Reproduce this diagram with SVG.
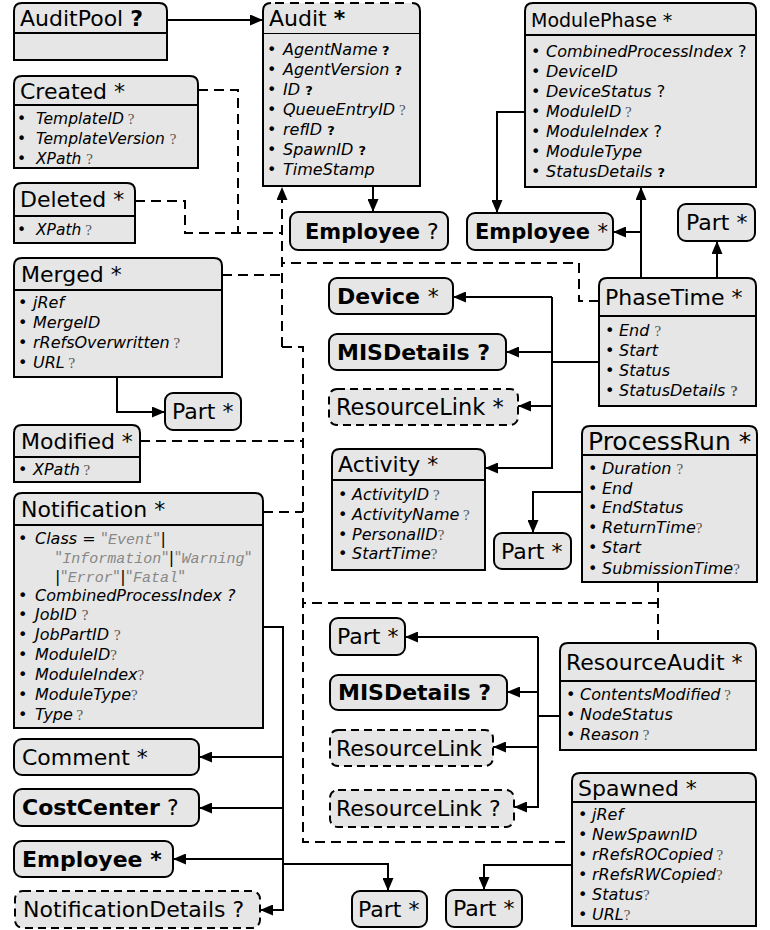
<svg xmlns="http://www.w3.org/2000/svg" width="770" height="930" viewBox="0 0 770 930">
<defs>
<style>
.b{fill:#e6e6e6;stroke:#000;stroke-width:2}
.d{fill:#e6e6e6;stroke:#000;stroke-width:2;stroke-dasharray:8,5}
.s{fill:none;stroke:#000;stroke-width:2}
.c{fill:none;stroke:#000;stroke-width:2}
.cd{fill:none;stroke:#000;stroke-width:2;stroke-dasharray:10,6}
text{font-family:"DejaVu Sans",Verdana,sans-serif;fill:#000}
.h{font-size:22px}
.n{font-size:22px}
.nb{font-size:21px;font-weight:bold}
.i{font-size:16px;font-style:italic}
.i15{font-size:15.5px;font-style:italic}
.bu{font-style:normal}
.qs{font-family:"Liberation Serif","DejaVu Serif",serif;font-style:normal;fill:#555;font-size:15px}
.qb{font-style:normal;font-weight:bold;font-size:13px}
.qn{font-style:normal}
.m{font-family:"Liberation Mono","DejaVu Sans Mono",monospace;font-style:italic;fill:#888;font-size:15px}
.g{fill:#888;font-style:normal}
</style>
<marker id="a" viewBox="0 0 13 11" refX="13" refY="5.5" markerWidth="13" markerHeight="11" markerUnits="userSpaceOnUse" orient="auto"><path d="M0,0L13,5.5L0,11Z" fill="#000"/></marker>
</defs>
<rect width="770" height="930" fill="#fff"/>

<g id="connectors">
<path class="c" d="M167,20H263" marker-end="url(#a)"/>
<path class="c" d="M373,186V212" marker-end="url(#a)"/>
<path class="c" d="M525,112H497V213" marker-end="url(#a)"/>
<path class="c" d="M641,278V187" marker-end="url(#a)"/>
<path class="c" d="M641,232H613" marker-end="url(#a)"/>
<path class="c" d="M717,278V241" marker-end="url(#a)"/>
<path class="c" d="M599,362H552"/>
<path class="c" d="M552,297V468H485" marker-end="url(#a)"/>
<path class="c" d="M552,297H453" marker-end="url(#a)"/>
<path class="c" d="M552,352H506" marker-end="url(#a)"/>
<path class="c" d="M552,406H518" marker-end="url(#a)"/>
<path class="c" d="M117,377V412H165" marker-end="url(#a)"/>
<path class="c" d="M263,627H283V910H260" marker-end="url(#a)"/>
<path class="c" d="M283,757H199" marker-end="url(#a)"/>
<path class="c" d="M283,808H199" marker-end="url(#a)"/>
<path class="c" d="M283,859H173" marker-end="url(#a)"/>
<path class="c" d="M283,864H388V891" marker-end="url(#a)"/>
<path class="c" d="M582,492H533V533" marker-end="url(#a)"/>
<path class="c" d="M560,716H538"/>
<path class="c" d="M538,637V807H514" marker-end="url(#a)"/>
<path class="c" d="M538,637H405" marker-end="url(#a)"/>
<path class="c" d="M538,692H507" marker-end="url(#a)"/>
<path class="c" d="M538,747H493" marker-end="url(#a)"/>
<path class="c" d="M572,865H484V890" marker-end="url(#a)"/>
<path class="cd" d="M282,347V187" marker-end="url(#a)"/>
<path class="cd" d="M198,90H238V233"/>
<path class="cd" d="M135,201H185V233H282"/>
<path class="cd" d="M599,301H579V263H282"/>
<path class="cd" d="M222,275H282"/>
<path class="cd" d="M282,347H303V842H572"/>
<path class="cd" d="M140,441H303"/>
<path class="cd" d="M263,512H303"/>
<path class="cd" d="M658,582V643"/>
<path class="cd" d="M658,603H303"/>
</g>

<g id="AuditPool">
<rect class="b" x="14" y="33" width="153" height="27"/>
<path class="b" d="M14,33V11Q14,3 22,3H159Q167,3 167,11V33Z"/>
<text class="h" x="20" y="26">AuditPool <tspan font-weight="bold">?</tspan></text>
</g>

<g id="Created">
<rect class="b" x="14" y="105" width="184" height="63"/>
<path class="b" d="M14,105V84Q14,76 22,76H190Q198,76 198,84V105Z"/>
<text class="h" x="20" y="99">Created *</text>
<text class="i15" y="124"><tspan class="bu" x="17">•</tspan><tspan x="36">TemplateID</tspan><tspan class="qs"> ?</tspan></text>
<text class="i15" y="144"><tspan class="bu" x="17">•</tspan><tspan x="36">TemplateVersion </tspan><tspan class="qs"> ?</tspan></text>
<text class="i15" y="164"><tspan class="bu" x="17">•</tspan><tspan x="36">XPath </tspan><tspan class="qs"> ?</tspan></text>
</g>

<g id="Deleted">
<rect class="b" x="14" y="216" width="121" height="27"/>
<path class="b" d="M14,216V191Q14,183 22,183H127Q135,183 135,191V216Z"/>
<text class="h" x="20" y="207">Deleted *</text>
<text class="i15" y="235"><tspan class="bu" x="17">•</tspan><tspan x="36">XPath</tspan><tspan class="qs"> ?</tspan></text>
</g>

<g id="Audit">
<rect class="b" x="263" y="33" width="157" height="153"/>
<path d="M263,33V11Q263,3 271,3H412Q420,3 420,11V33Z" fill="#e6e6e6"/>
<path class="s" d="M263,33V11Q263,3 271,3M412,3Q420,3 420,11V33"/>
<path class="s" d="M275,3H410" stroke-dasharray="9,6"/>
<text class="h" x="269" y="26">Audit <tspan font-weight="bold">*</tspan></text>
<text class="i" y="55"><tspan class="bu" x="267">•</tspan><tspan x="283">AgentName</tspan><tspan class="qb"> ?</tspan></text>
<text class="i" y="75"><tspan class="bu" x="267">•</tspan><tspan x="283">AgentVersion </tspan><tspan class="qb"> ?</tspan></text>
<text class="i" y="95"><tspan class="bu" x="267">•</tspan><tspan x="283">ID </tspan><tspan class="qb"> ?</tspan></text>
<text class="i" y="115"><tspan class="bu" x="267">•</tspan><tspan x="283">QueueEntryID</tspan><tspan class="qs"> ?</tspan></text>
<text class="i" y="135"><tspan class="bu" x="267">•</tspan><tspan x="283">refID </tspan><tspan class="qb">?</tspan></text>
<text class="i" y="155"><tspan class="bu" x="267">•</tspan><tspan x="283">SpawnID </tspan><tspan class="qb"> ?</tspan></text>
<text class="i" y="175"><tspan class="bu" x="267">•</tspan><tspan x="283">TimeStamp</tspan></text>
</g>

<g id="EmployeeAudit">
<rect class="b" x="290" y="212" width="158" height="38" rx="8"/>
<text class="nb" x="305" y="239">Employee<tspan font-weight="normal" font-size="22"> ?</tspan></text>
</g>

<g id="ModulePhase">
<rect class="b" x="525" y="35" width="231" height="152"/>
<path class="b" d="M525,35V11Q525,3 533,3H748Q756,3 756,11V35Z"/>
<text x="531" y="27" font-size="19">ModulePhase *</text>
<text class="i" y="57"><tspan class="bu" x="531">•</tspan><tspan x="546">CombinedProcessIndex</tspan><tspan class="qn"> ?</tspan></text>
<text class="i" y="77"><tspan class="bu" x="531">•</tspan><tspan x="546">DeviceID</tspan></text>
<text class="i" y="97"><tspan class="bu" x="531">•</tspan><tspan x="546">DeviceStatus</tspan><tspan class="qn"> ?</tspan></text>
<text class="i" y="117"><tspan class="bu" x="531">•</tspan><tspan x="546">ModuleID</tspan><tspan class="qs"> ?</tspan></text>
<text class="i" y="137"><tspan class="bu" x="531">•</tspan><tspan x="546">ModuleIndex</tspan><tspan class="qn"> ?</tspan></text>
<text class="i" y="157"><tspan class="bu" x="531">•</tspan><tspan x="546">ModuleType</tspan></text>
<text class="i" y="177"><tspan class="bu" x="531">•</tspan><tspan x="546">StatusDetails </tspan><tspan class="qb"> ?</tspan></text>
</g>

<g id="EmployeeModulePhase">
<rect class="b" x="467" y="213" width="146" height="37" rx="8"/>
<text class="nb" x="475" y="239">Employee <tspan font-weight="normal">*</tspan></text>
</g>

<g id="PartPhaseTime">
<rect class="b" x="678" y="204" width="77" height="37" rx="8"/>
<text class="n" x="686" y="230">Part *</text>
</g>

<g id="PhaseTime">
<rect class="b" x="599" y="316" width="157" height="90"/>
<path class="b" d="M599,316V286Q599,278 607,278H748Q756,278 756,286V316Z"/>
<text class="h" x="605" y="305">PhaseTime *</text>
<text class="i" y="336"><tspan class="bu" x="605">•</tspan><tspan x="619">End </tspan><tspan class="qs"> ?</tspan></text>
<text class="i" y="356"><tspan class="bu" x="605">•</tspan><tspan x="619">Start</tspan></text>
<text class="i" y="376"><tspan class="bu" x="605">•</tspan><tspan x="619">Status</tspan></text>
<text class="i" y="396"><tspan class="bu" x="605">•</tspan><tspan x="619">StatusDetails </tspan><tspan class="qs" font-weight="bold">?</tspan></text>
</g>

<g id="Device">
<rect class="b" x="329" y="278" width="124" height="36" rx="8"/>
<text class="n" x="337" y="304" font-weight="bold">Device <tspan font-weight="normal">*</tspan></text>
</g>

<g id="MISDetailsPhaseTime">
<rect class="b" x="329" y="334" width="177" height="36" rx="8"/>
<text class="n" x="337" y="360" font-weight="bold">MISDetails ?</text>
</g>

<g id="ResourceLinkPhaseTime">
<rect class="d" x="329" y="389" width="189" height="36" rx="8"/>
<text x="336" y="415" font-size="22.5">ResourceLink *</text>
</g>

<g id="Activity">
<rect class="b" x="332" y="480" width="153" height="90"/>
<path class="b" d="M332,480V457Q332,449 340,449H477Q485,449 485,457V480Z"/>
<text class="h" x="338" y="472">Activity *</text>
<text class="i" y="500"><tspan class="bu" x="338">•</tspan><tspan x="352">ActivityID</tspan><tspan class="qs"> ?</tspan></text>
<text class="i" y="520"><tspan class="bu" x="338">•</tspan><tspan x="352">ActivityName</tspan><tspan class="qs"> ?</tspan></text>
<text class="i" y="540"><tspan class="bu" x="338">•</tspan><tspan x="352">PersonalID</tspan><tspan class="qs">?</tspan></text>
<text class="i" y="559"><tspan class="bu" x="338">•</tspan><tspan x="352">StartTime</tspan><tspan class="qs">?</tspan></text>
</g>

<g id="Merged">
<rect class="b" x="14" y="290" width="208" height="87"/>
<path class="b" d="M14,290V266Q14,258 22,258H214Q222,258 222,266V290Z"/>
<text class="h" x="21" y="282">Merged *</text>
<text class="i" y="308"><tspan class="bu" x="18">•</tspan><tspan x="33">jRef</tspan></text>
<text class="i" y="328"><tspan class="bu" x="18">•</tspan><tspan x="33">MergeID</tspan></text>
<text class="i" y="348"><tspan class="bu" x="18">•</tspan><tspan x="33">rRefsOverwritten</tspan><tspan class="qs"> ?</tspan></text>
<text class="i" y="368"><tspan class="bu" x="18">•</tspan><tspan x="33">URL</tspan><tspan class="qs"> ?</tspan></text>
</g>

<g id="PartMerged">
<rect class="b" x="165" y="393" width="76" height="37" rx="8"/>
<text class="n" x="172" y="419">Part *</text>
</g>

<g id="Modified">
<rect class="b" x="14" y="457" width="126" height="25"/>
<path class="b" d="M14,457V433Q14,425 22,425H132Q140,425 140,433V457Z"/>
<text class="h" x="21" y="449">Modified *</text>
<text class="i" y="475"><tspan class="bu" x="18">•</tspan><tspan x="33">XPath</tspan><tspan class="qs"> ?</tspan></text>
</g>

<g id="Notification">
<rect class="b" x="14" y="525" width="249" height="203"/>
<path class="b" d="M14,525V501Q14,493 22,493H255Q263,493 263,501V525Z"/>
<text class="h" x="21" y="517">Notification *</text>
<text class="i" y="544"><tspan class="bu" x="18">•</tspan><tspan x="35">Class = </tspan><tspan class="g">"</tspan><tspan class="m">Event</tspan><tspan class="g">"</tspan><tspan class="bu">|</tspan></text>
<text class="i" y="563"><tspan class="g" x="55">"</tspan><tspan class="m">Information</tspan><tspan class="g">"</tspan><tspan class="bu">|</tspan><tspan class="g">"</tspan><tspan class="m">Warning</tspan><tspan class="g">"</tspan></text>
<text class="i" y="582"><tspan class="bu" x="55">|</tspan><tspan class="g">"</tspan><tspan class="m">Error</tspan><tspan class="g">"</tspan><tspan class="bu">|</tspan><tspan class="g">"</tspan><tspan class="m">Fatal</tspan><tspan class="g">"</tspan></text>
<text class="i" y="601"><tspan class="bu" x="18">•</tspan><tspan x="35">CombinedProcessIndex ?</tspan></text>
<text class="i" y="620"><tspan class="bu" x="18">•</tspan><tspan x="35">JobID </tspan><tspan class="qs"> ?</tspan></text>
<text class="i" y="640"><tspan class="bu" x="18">•</tspan><tspan x="35">JobPartID </tspan><tspan class="qs"> ?</tspan></text>
<text class="i" y="660"><tspan class="bu" x="18">•</tspan><tspan x="35">ModuleID</tspan><tspan class="qs">?</tspan></text>
<text class="i" y="680"><tspan class="bu" x="18">•</tspan><tspan x="35">ModuleIndex</tspan><tspan class="qs">?</tspan></text>
<text class="i" y="700"><tspan class="bu" x="18">•</tspan><tspan x="35">ModuleType</tspan><tspan class="qs">?</tspan></text>
<text class="i" y="720"><tspan class="bu" x="18">•</tspan><tspan x="35">Type</tspan><tspan class="qs"> ?</tspan></text>
</g>

<g id="Comment">
<rect class="b" x="14" y="739" width="185" height="36" rx="8"/>
<text class="n" x="22" y="765">Comment *</text>
</g>

<g id="CostCenter">
<rect class="b" x="14" y="789" width="185" height="37" rx="8"/>
<text class="n" x="22" y="815"><tspan font-weight="bold">CostCenter</tspan> ?</text>
</g>

<g id="EmployeeNotification">
<rect class="b" x="14" y="841" width="159" height="36" rx="8"/>
<text class="n" x="22" y="867" font-weight="bold">Employee *</text>
</g>

<g id="NotificationDetails">
<rect class="d" x="15" y="891" width="245" height="37" rx="8"/>
<text class="n" x="23" y="917">NotificationDetails ?</text>
</g>

<g id="PartNotification">
<rect class="b" x="352" y="891" width="75" height="36" rx="8"/>
<text class="n" x="358" y="917">Part *</text>
</g>

<g id="ProcessRun">
<rect class="b" x="582" y="455" width="175" height="127"/>
<path class="b" d="M582,455V434Q582,426 590,426H749Q757,426 757,434V455Z"/>
<text x="588" y="450" font-size="25">ProcessRun *</text>
<text class="i" y="474"><tspan class="bu" x="588">•</tspan><tspan x="602">Duration </tspan><tspan class="qs"> ?</tspan></text>
<text class="i" y="494"><tspan class="bu" x="588">•</tspan><tspan x="602">End</tspan></text>
<text class="i" y="513"><tspan class="bu" x="588">•</tspan><tspan x="602">EndStatus</tspan></text>
<text class="i" y="533"><tspan class="bu" x="588">•</tspan><tspan x="602">ReturnTime</tspan><tspan class="qs">?</tspan></text>
<text class="i" y="553"><tspan class="bu" x="588">•</tspan><tspan x="602">Start</tspan></text>
<text class="i" y="574"><tspan class="bu" x="588">•</tspan><tspan x="602">SubmissionTime</tspan><tspan class="qs">?</tspan></text>
</g>

<g id="PartProcessRun">
<rect class="b" x="494" y="533" width="77" height="36" rx="8"/>
<text class="n" x="501" y="559">Part *</text>
</g>

<g id="ResourceAudit">
<rect class="b" x="560" y="681" width="196" height="69"/>
<path class="b" d="M560,681V651Q560,643 568,643H748Q756,643 756,651V681Z"/>
<text class="h" x="566" y="670">ResourceAudit *</text>
<text class="i" y="700"><tspan class="bu" x="566">•</tspan><tspan x="580">ContentsModified</tspan><tspan class="qs"> ?</tspan></text>
<text class="i" y="720"><tspan class="bu" x="566">•</tspan><tspan x="580">NodeStatus</tspan></text>
<text class="i" y="740"><tspan class="bu" x="566">•</tspan><tspan x="580">Reason</tspan><tspan class="qs"> ?</tspan></text>
</g>

<g id="PartResourceAudit">
<rect class="b" x="330" y="618" width="75" height="37" rx="8"/>
<text class="n" x="337" y="644">Part *</text>
</g>

<g id="MISDetailsResourceAudit">
<rect class="b" x="330" y="675" width="177" height="35" rx="8"/>
<text class="n" x="338" y="700" font-weight="bold">MISDetails ?</text>
</g>

<g id="ResourceLinkResourceAudit">
<rect class="d" x="330" y="730" width="163" height="36" rx="8"/>
<text class="n" x="336" y="756">ResourceLink</text>
</g>

<g id="ResourceLinkOptional">
<rect class="d" x="330" y="790" width="184" height="37" rx="8"/>
<text class="n" x="336" y="816">ResourceLink ?</text>
</g>

<g id="Spawned">
<rect class="b" x="572" y="802" width="184" height="124"/>
<path class="b" d="M572,802V781Q572,773 580,773H748Q756,773 756,781V802Z"/>
<text class="h" x="578" y="796">Spawned *</text>
<text class="i" y="820"><tspan class="bu" x="578">•</tspan><tspan x="592">jRef</tspan></text>
<text class="i" y="840"><tspan class="bu" x="578">•</tspan><tspan x="592">NewSpawnID</tspan></text>
<text class="i" y="860"><tspan class="bu" x="578">•</tspan><tspan x="592">rRefsROCopied</tspan><tspan class="qs"> ?</tspan></text>
<text class="i" y="880"><tspan class="bu" x="578">•</tspan><tspan x="592">rRefsRWCopied</tspan><tspan class="qs">?</tspan></text>
<text class="i" y="900"><tspan class="bu" x="578">•</tspan><tspan x="592">Status</tspan><tspan class="qs">?</tspan></text>
<text class="i" y="920"><tspan class="bu" x="578">•</tspan><tspan x="592">URL</tspan><tspan class="qs">?</tspan></text>
</g>

<g id="PartSpawned">
<rect class="b" x="446" y="890" width="76" height="37" rx="8"/>
<text class="n" x="453" y="916">Part *</text>
</g>
</svg>
